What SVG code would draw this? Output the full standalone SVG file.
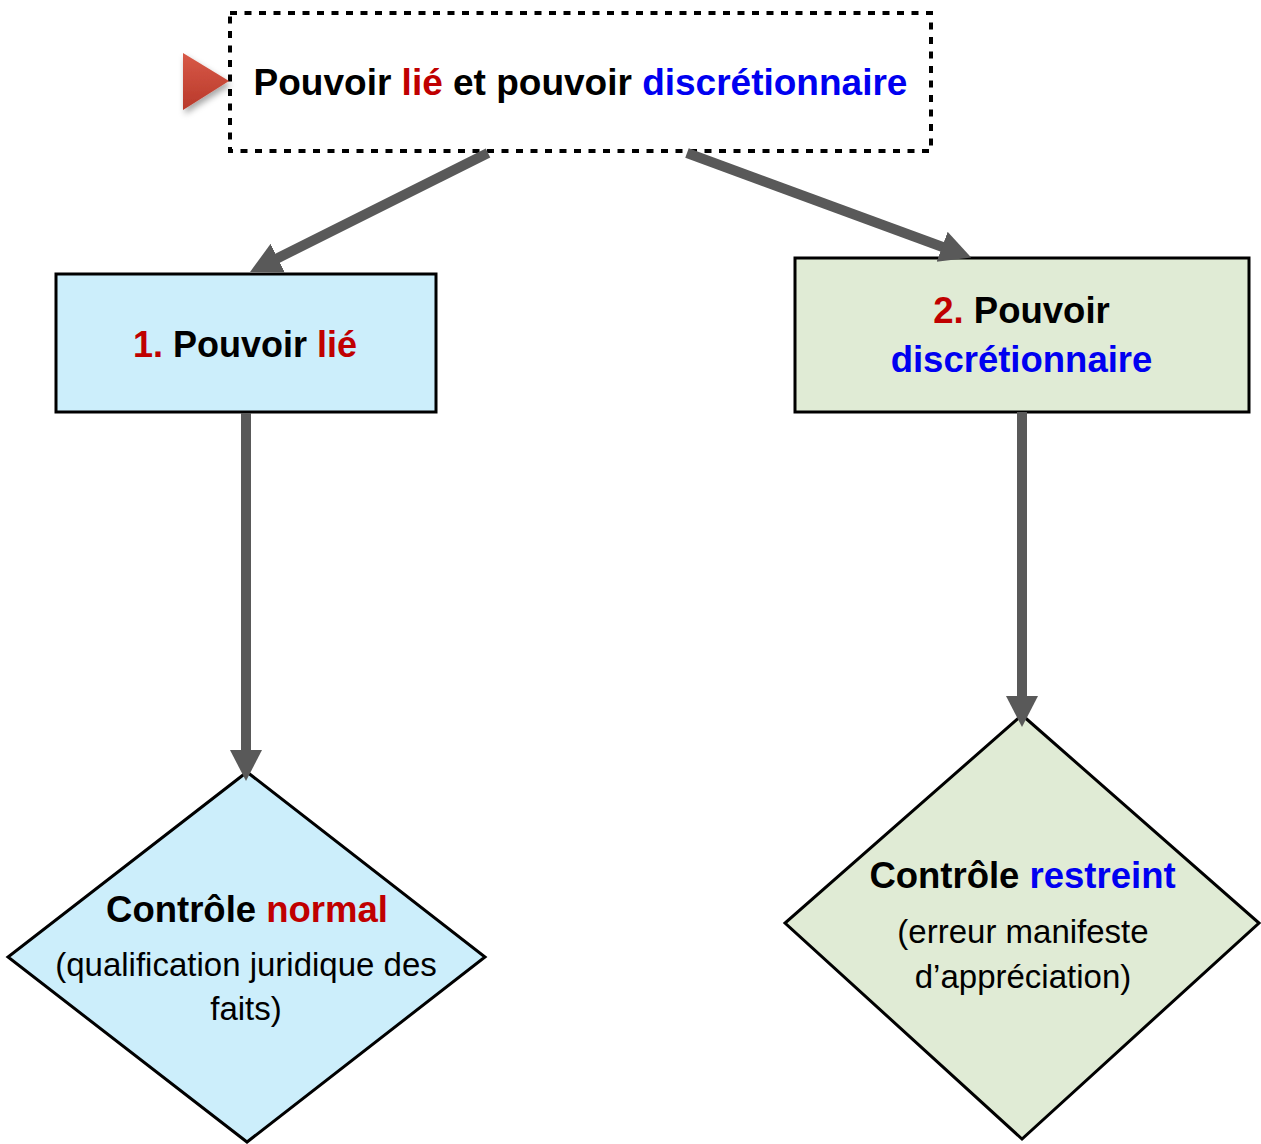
<svg xmlns="http://www.w3.org/2000/svg" width="1261" height="1144" viewBox="0 0 1261 1144">
<defs>
<style>
.t{font-family:"Liberation Sans",Arial,sans-serif;text-anchor:middle;fill:#000}
.b{font-weight:bold}
.red{fill:#C00000}
.blue{fill:#0000F0}
.box{stroke:#000;stroke-width:3}
.conn{stroke:#595959;stroke-width:10;fill:none}
</style>
<marker id="ah" markerUnits="userSpaceOnUse" markerWidth="34" markerHeight="34" refX="2" refY="16" orient="auto">
<path d="M0,0 L31,16 L0,32 z" fill="#595959"/>
</marker>
<linearGradient id="tri" x1="0" y1="0" x2="0" y2="1">
<stop offset="0" stop-color="#D85A48"/>
<stop offset="1" stop-color="#B8382A"/>
</linearGradient>
<filter id="sh" x="-30%" y="-30%" width="170%" height="170%">
<feDropShadow dx="2" dy="4" stdDeviation="3" flood-color="#000" flood-opacity="0.35"/>
</filter>
</defs>
<rect width="1261" height="1144" fill="#fff"/>

<g id="title">
<rect x="230" y="13" width="701" height="138" fill="#fff" stroke="#000" stroke-width="4" stroke-dasharray="7,7.5"/>
<polygon points="183,53 229,81 183,110" fill="url(#tri)" filter="url(#sh)"/>
<text class="t b" x="580.5" y="95" font-size="37">Pouvoir <tspan class="red">lié</tspan> et pouvoir <tspan class="blue">discrétionnaire</tspan></text>
</g>

<g id="node1">
<rect class="box" x="56" y="274" width="380" height="138" fill="#CCEEFB"/>
<text class="t b" x="245" y="357" font-size="36"><tspan class="red">1.</tspan> Pouvoir <tspan class="red">lié</tspan></text>
</g>

<g id="node2">
<rect class="box" x="795" y="258" width="454" height="154" fill="#E0EBD5"/>
<text class="t b" x="1021.5" y="323" font-size="36.5"><tspan class="red">2.</tspan> Pouvoir</text>
<text class="t b blue" x="1021.5" y="372" font-size="36.5">discrétionnaire</text>
</g>

<g id="node3">
<polygon class="box" points="247,772 485,957 247,1142 8,957" fill="#CCEEFB"/>
<text class="t b" x="247" y="922" font-size="36.5">Contrôle <tspan class="red">normal</tspan></text>
<text class="t" x="246" y="976" font-size="33">(qualification juridique des</text>
<text class="t" x="246" y="1020" font-size="33">faits)</text>
</g>

<g id="node4">
<polygon class="box" points="1022,715 1259,923 1022,1139 785,923" fill="#E0EBD5"/>
<text class="t b" x="1022.5" y="888" font-size="36.5">Contrôle <tspan class="blue">restreint</tspan></text>
<text class="t" x="1023" y="943" font-size="33">(erreur manifeste</text>
<text class="t" x="1023" y="988" font-size="33">d’appréciation)</text>
</g>

<g id="connectors">
<line class="conn" x1="488" y1="153" x2="276" y2="259" marker-end="url(#ah)"/>
<line class="conn" x1="687" y1="153" x2="944" y2="247.5" marker-end="url(#ah)"/>
<line class="conn" x1="246" y1="413" x2="246" y2="752" marker-end="url(#ah)"/>
<line class="conn" x1="1022" y1="412" x2="1022" y2="698" marker-end="url(#ah)"/>
</g>
</svg>
